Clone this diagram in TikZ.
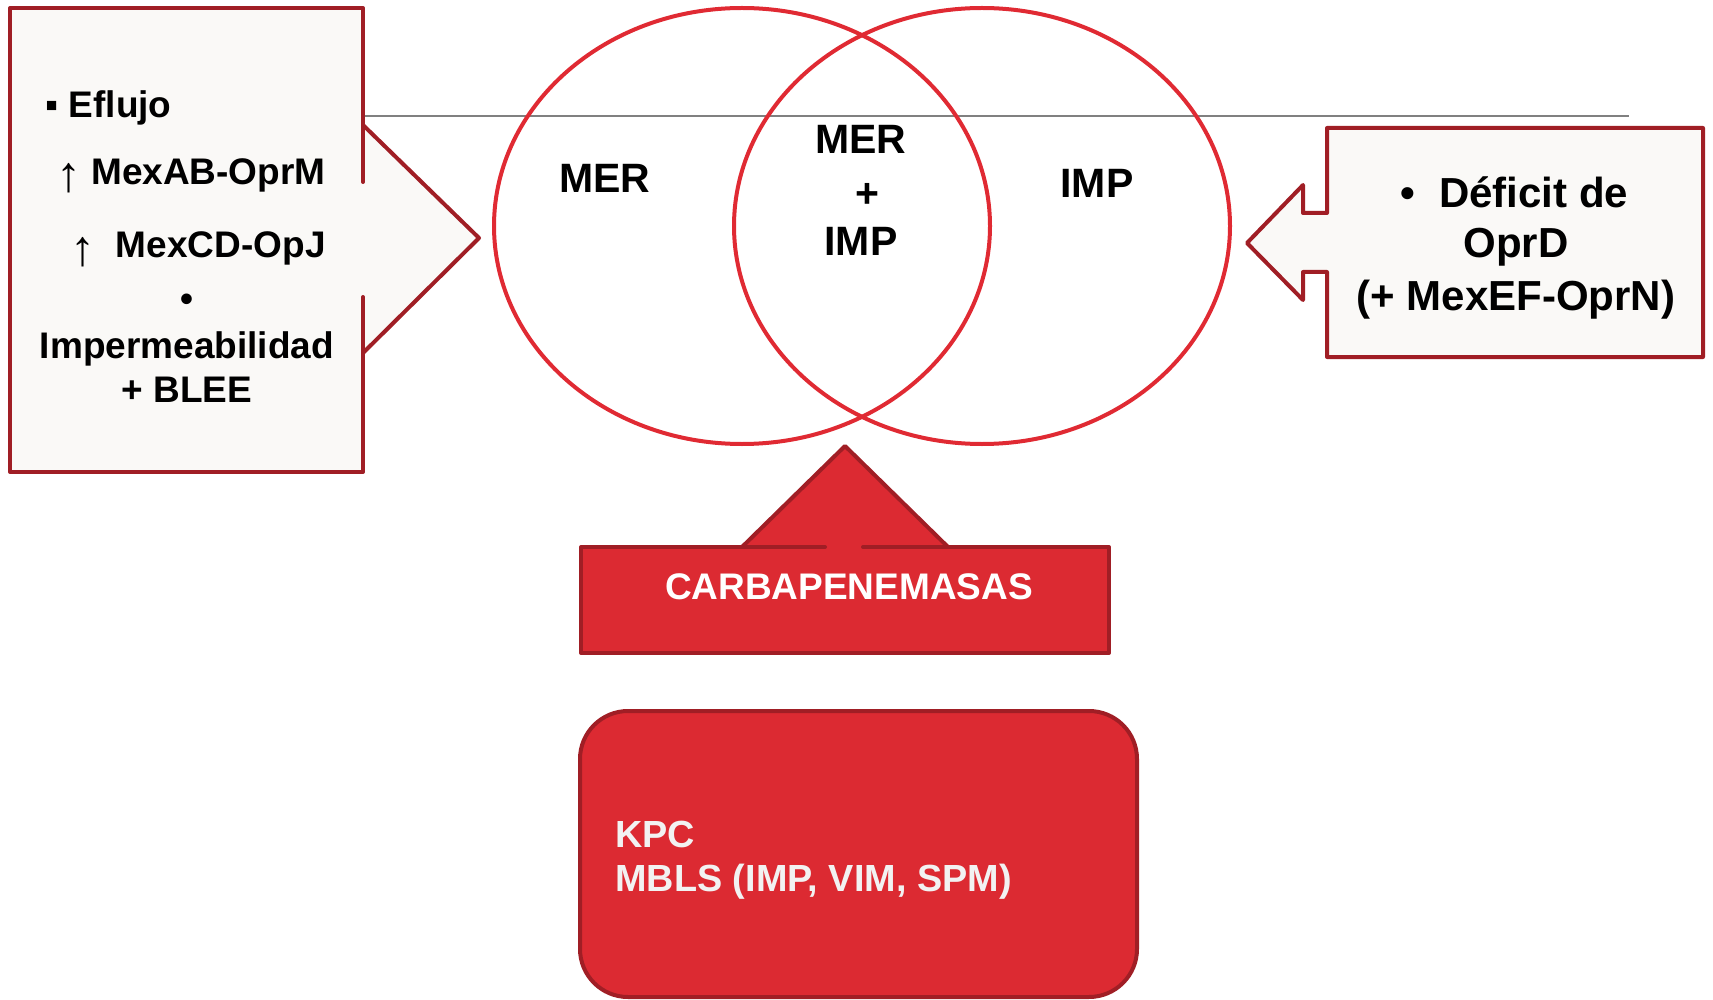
\documentclass[tikz,border=0pt]{standalone}
\usepackage{fontspec}
\setmainfont{Liberation Sans}
\definecolor{dred}{HTML}{A01E25}
\definecolor{bred}{HTML}{E02A33}
\definecolor{fillred}{HTML}{DC2A32}
\definecolor{boxbg}{HTML}{FAF9F7}
\definecolor{lgray}{HTML}{F2F2F2}
\definecolor{gline}{HTML}{808080}
\newcommand{\uparr}{\raisebox{-3.5pt}{\mdseries\fontsize{25}{25}\selectfont ↑}}
\begin{document}
\begin{tikzpicture}[x=0.5pt,y=-0.5pt,
  edge/.style={draw=dred, line width=2pt, line join=round},
  venn/.style={draw=bred, line width=2pt},
  lefttxt/.style={inner sep=0pt, font=\bfseries\fontsize{18.5}{22}\selectfont},
  venntxt/.style={inner sep=0pt, font=\bfseries\fontsize{20.5}{24}\selectfont},
  righttxt/.style={inner sep=0pt, font=\bfseries\fontsize{21}{25}\selectfont},
  redtxt/.style={inner sep=0pt, font=\bfseries\fontsize{18.5}{22}\selectfont},
  kpctxt/.style={inner sep=0pt, font=\bfseries\fontsize{18.9}{22}\selectfont}]
\useasboundingbox (0,0) rectangle (1713,1000);
% thin gray line
\coordinate (gl1) at (363,116);
\coordinate (gl2) at (1629,116);
\draw[gline, line width=0.9pt] (gl1) -- (gl2);
% left callout box
\fill[boxbg] (10,8) rectangle (363,472);
\fill[boxbg] (363,125) -- (479,238) -- (363,353) -- cycle;
\draw[edge, line cap=round] (363,182) -- (363,8) -- (10,8) -- (10,472) -- (363,472) -- (363,297);
\draw[edge] (363,125) -- (479,238) -- (363,353);
% Venn ellipses
\draw[venn] (742,226) ellipse [x radius=248, y radius=218];
\draw[venn] (982,226) ellipse [x radius=248, y radius=218];
% right callout box
\filldraw[fill=boxbg, edge] (1327,128) -- (1703,128) -- (1703,357) -- (1327,357) -- (1327,272) -- (1303,272) -- (1303,300) -- (1247,243) -- (1303,185) -- (1303,213) -- (1327,213) -- cycle;
% carbapenemasas callout
\fill[fillred] (742,547) -- (845,446) -- (948,547) -- cycle;
\fill[fillred] (581,547) rectangle (1109,653);
\draw[edge] (742,547) -- (845,446) -- (948,547);
\draw[edge, line cap=round] (825,547) -- (581,547) -- (581,653) -- (1109,653) -- (1109,547) -- (863,547);
% bottom rounded box
\draw[edge, fill=fillred, rounded corners=24pt] (580,711) rectangle (1137,997);
% left texts
\node[lefttxt, anchor=base west] (l1) at (45,118) {▪ Eflujo};
\node[lefttxt, anchor=base east] (l2) at (326,185) {\uparr\hspace{5pt}MexAB-OprM};
\node[lefttxt, anchor=base east] (l3) at (326,258) {\uparr\hspace{10pt}MexCD-OpJ};
\node[lefttxt, anchor=center] (l4) at (187,303) {•};
\node[lefttxt, anchor=base] (l5) at (187,358) {Impermeabilidad};
\node[lefttxt, anchor=base] (l6) at (187,402) {+ BLEE};
% venn texts
\node[venntxt, anchor=base] (mer) at (605,193) {MER};
\node[venntxt, anchor=base] (c1) at (861,154) {MER};
\node[venntxt, anchor=center] (c2) at (867,195) {+};
\node[venntxt, anchor=base] (c3) at (861,256) {IMP};
\node[venntxt, anchor=base] (imp) at (1097,198) {IMP};
% right texts
\node[righttxt, anchor=base west] (r1) at (1400,208) {•\hspace{12pt}Déficit de};
\node[righttxt, anchor=base] (r2) at (1516,258) {OprD};
\node[righttxt, anchor=base] (r3) at (1516,310) {(+ MexEF-OprN)};
% red box texts
\node[redtxt, anchor=base, text=white] (carb) at (849,599) {CARBAPENEMASAS};
\node[kpctxt, anchor=base west, text=lgray] (kpc) at (615,847) {KPC};
\node[kpctxt, anchor=base west, text=lgray] (mbls) at (615,891) {MBLS (IMP, VIM, SPM)};
\end{tikzpicture}
\end{document}
